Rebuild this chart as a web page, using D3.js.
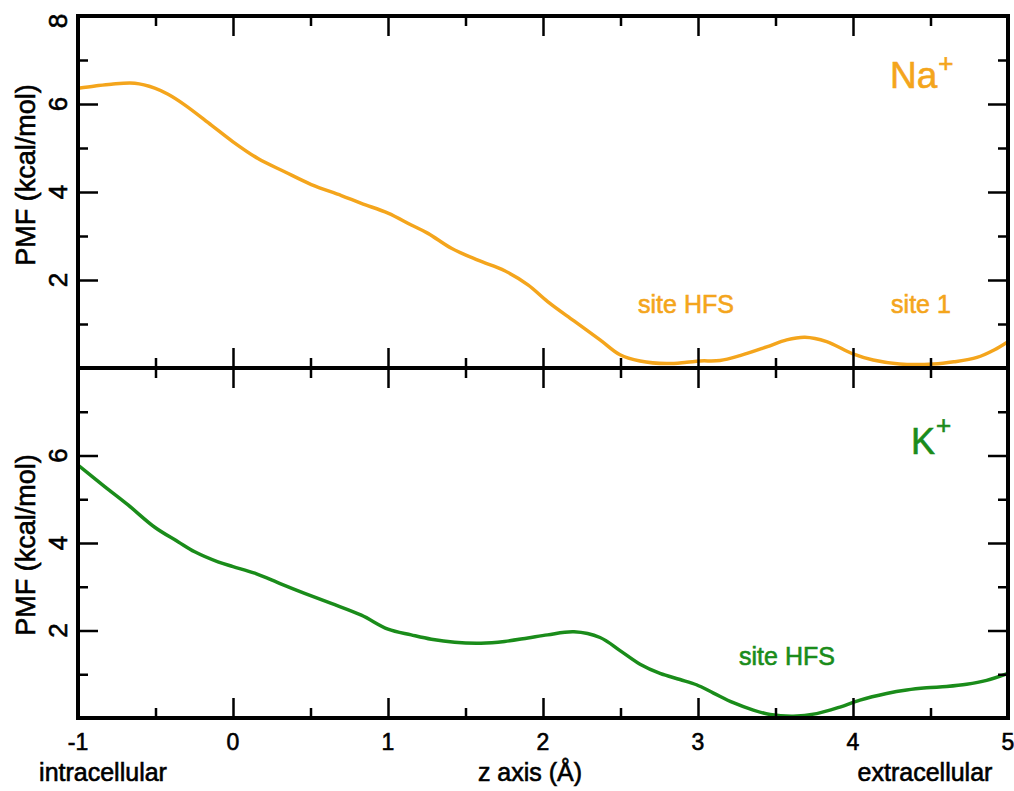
<!DOCTYPE html>
<html>
<head>
<meta charset="utf-8">
<script src="https://cdn.jsdelivr.net/npm/d3@7"></script>
<style>
  body { margin: 0; background: #fff; }
  text { font-family: Arial, "Liberation Sans", Helvetica, sans-serif; stroke-width: 0.6px; }
</style>
</head>
<body>
<div id="chart"></div>
<script>
// Data
const naZ = [-1, -0.89, -0.785, -0.634, -0.505, -0.419, -0.312, -0.14, 0, 0.161, 0.333, 0.505, 0.699, 0.828, 1.0, 1.15, 1.258, 1.409, 1.58, 1.753, 1.903, 2.03, 2.2, 2.368, 2.497, 2.626, 2.798, 2.927, 3.013, 3.142, 3.271, 3.443, 3.572, 3.69, 3.83, 4.0, 4.13, 4.30, 4.52, 4.65, 4.80, 4.91, 5.0];
const naPMF = [6.36, 6.41, 6.45, 6.47, 6.36, 6.22, 5.98, 5.52, 5.14, 4.76, 4.46, 4.17, 3.92, 3.74, 3.52, 3.25, 3.06, 2.72, 2.45, 2.21, 1.89, 1.51, 1.07, 0.64, 0.30, 0.16, 0.10, 0.13, 0.16, 0.17, 0.28, 0.48, 0.64, 0.70, 0.60, 0.32, 0.18, 0.09, 0.09, 0.14, 0.24, 0.41, 0.60];

const kZ = [-1, -0.828, -0.677, -0.505, -0.355, -0.247, -0.097, 0, 0.14, 0.312, 0.462, 0.634, 0.828, 1.0, 1.15, 1.28, 1.43, 1.60, 1.753, 1.903, 2.03, 2.2, 2.368, 2.497, 2.626, 2.755, 2.884, 2.99, 3.10, 3.228, 3.357, 3.465, 3.615, 3.766, 3.916, 4.045, 4.217, 4.346, 4.475, 4.604, 4.733, 4.862, 5.0];
const kPMF = [5.78, 5.29, 4.87, 4.36, 4.03, 3.80, 3.57, 3.46, 3.31, 3.06, 2.85, 2.62, 2.35, 2.03, 1.90, 1.80, 1.73, 1.71, 1.75, 1.83, 1.90, 1.97, 1.84, 1.54, 1.23, 1.02, 0.88, 0.76, 0.57, 0.35, 0.18, 0.08, 0.04, 0.10, 0.25, 0.41, 0.56, 0.64, 0.69, 0.72, 0.77, 0.86, 1.02];

const xMajor = [-1, 0, 1, 2, 3, 4, 5];
const xMinor = [-0.5, 0.5, 1.5, 2.5, 3.5, 4.5];
const yMajor = [2, 4, 6];
const yMinor = [1, 3, 5, 7];
const topYLabels = [2, 4, 6, 8];
const bottomYLabels = [2, 4, 6];

const width = 1014, height = 791;
const left = 78, right = 1008;
const orange = "#f4a51c", green = "#1a8c1a";

const svg = d3.select("#chart").append("svg")
  .attr("width", width)
  .attr("height", height);

const x = d3.scaleLinear().domain([-1, 5]).range([left, right]);

const panels = [
  { id: "na", z: naZ, v: naPMF, top: 16, bottom: 368, color: orange, yLabels: topYLabels, titleY: 175 },
  { id: "k", z: kZ, v: kPMF, top: 368, bottom: 718, color: green, yLabels: bottomYLabels, titleY: 545 }
];

const defs = svg.append("defs");

panels.forEach(p => {
  const y = d3.scaleLinear().domain([0, 8]).range([p.bottom, p.top]);
  const g = svg.append("g");

  defs.append("clipPath").attr("id", "clip-" + p.id)
    .append("rect")
    .attr("x", left).attr("y", p.top)
    .attr("width", right - left).attr("height", p.bottom - p.top);

  const line = d3.line()
    .x((d, i) => x(p.z[i]))
    .y(d => y(d))
    .curve(d3.curveCatmullRom.alpha(0.5));

  g.append("path")
    .datum(p.v)
    .attr("clip-path", `url(#clip-${p.id})`)
    .attr("fill", "none")
    .attr("stroke", p.color)
    .attr("stroke-width", 3.5)
    .attr("stroke-linejoin", "round")
    .attr("d", line);

  // inward ticks on all four sides
  const tickAxes = [
    [d3.axisBottom(x).tickValues(xMajor).tickSize(-20), `translate(0,${p.bottom})`],
    [d3.axisBottom(x).tickValues(xMinor).tickSize(-10), `translate(0,${p.bottom})`],
    [d3.axisTop(x).tickValues(xMajor).tickSize(-20), `translate(0,${p.top})`],
    [d3.axisTop(x).tickValues(xMinor).tickSize(-10), `translate(0,${p.top})`],
    [d3.axisLeft(y).tickValues(yMajor).tickSize(-20), `translate(${left},0)`],
    [d3.axisLeft(y).tickValues(yMinor).tickSize(-10), `translate(${left},0)`],
    [d3.axisRight(y).tickValues(yMajor).tickSize(-20), `translate(${right},0)`],
    [d3.axisRight(y).tickValues(yMinor).tickSize(-10), `translate(${right},0)`]
  ];
  tickAxes.forEach(([ax, tr]) => {
    const a = g.append("g").attr("transform", tr).call(ax.tickFormat(""));
    a.select(".domain").remove();
    a.selectAll(".tick line").attr("stroke", "#000").attr("stroke-width", 2.5);
  });

  g.append("rect")
    .attr("x", left).attr("y", p.top)
    .attr("width", right - left).attr("height", p.bottom - p.top)
    .attr("fill", "none")
    .attr("stroke", "#000")
    .attr("stroke-width", 4);

  // rotated y tick labels
  g.selectAll(".ylab")
    .data(p.yLabels)
    .join("text")
    .attr("class", "ylab")
    .attr("transform", d => `translate(67,${y(d) + (d === 8 ? 5 : 0)}) rotate(-90)`)
    .attr("text-anchor", "middle")
    .attr("font-size", 26)
    .attr("fill", "#000")
    .attr("stroke", "#000")
    .text(d => d);

  g.append("text")
    .attr("transform", `translate(35,${p.titleY}) rotate(-90)`)
    .attr("text-anchor", "middle")
    .attr("font-size", 27)
    .attr("fill", "#000")
    .attr("stroke", "#000")
    .text("PMF (kcal/mol)");
});

// x tick labels under the bottom panel
svg.selectAll(".xlab")
  .data(xMajor)
  .join("text")
  .attr("class", "xlab")
  .attr("x", d => x(d))
  .attr("y", 750)
  .attr("text-anchor", "middle")
  .attr("font-size", 23)
  .attr("fill", "#000")
  .attr("stroke", "#000")
  .text(d => d);

const bottomLabels = [
  { text: "intracellular", cx: 103 },
  { text: "z axis (Å)", cx: 530 },
  { text: "extracellular", cx: 925 }
];
svg.selectAll(".blab")
  .data(bottomLabels)
  .join("text")
  .attr("class", "blab")
  .attr("x", d => d.cx)
  .attr("y", 781)
  .attr("text-anchor", "middle")
  .attr("font-size", 25)
  .attr("fill", "#000")
  .attr("stroke", "#000")
  .text(d => d.text);

// ion names
const na = svg.append("text").attr("x", 890).attr("y", 88).attr("font-size", 37)
  .attr("fill", orange).attr("stroke", orange);
na.append("tspan").text("Na");
na.append("tspan").attr("dx", 1).attr("dy", -16).attr("font-size", 26).text("+");

const k = svg.append("text").attr("x", 911).attr("y", 454).attr("font-size", 36)
  .attr("fill", green).attr("stroke", green);
k.append("tspan").text("K");
k.append("tspan").attr("dx", 1).attr("dy", -20).attr("font-size", 26).text("+");

// site annotations
const sites = [
  { text: "site HFS", cx: 686, y: 313, color: orange },
  { text: "site 1", cx: 921, y: 313, color: orange },
  { text: "site HFS", cx: 787, y: 665, color: green }
];
svg.selectAll(".site")
  .data(sites)
  .join("text")
  .attr("class", "site")
  .attr("x", d => d.cx)
  .attr("y", d => d.y)
  .attr("text-anchor", "middle")
  .attr("font-size", 25)
  .attr("fill", d => d.color)
  .attr("stroke", d => d.color)
  .text(d => d.text);
</script>
</body>
</html>
